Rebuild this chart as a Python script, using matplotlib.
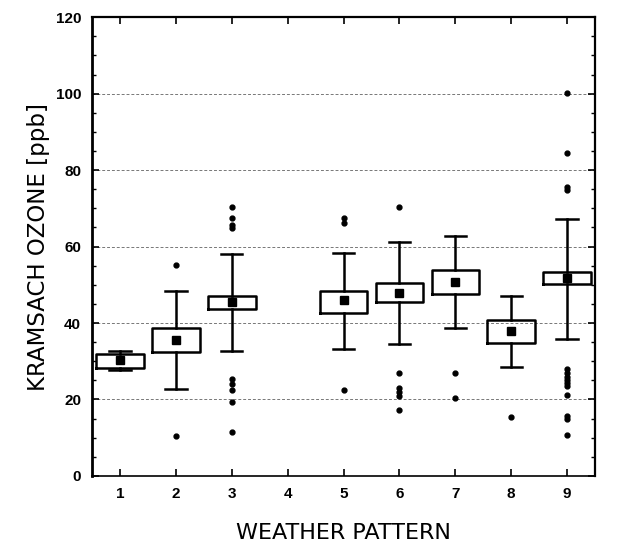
#!/usr/bin/env python3
"""Box plots of Kramsach ozone by weather pattern."""

import matplotlib
matplotlib.use('Agg')
import matplotlib.pyplot as plt
from matplotlib.ticker import MultipleLocator

# Weather patterns present (4 has no data)
patterns = [1, 2, 3, 5, 6, 7, 8, 9]
q1 = [28.3, 32.4, 43.8, 42.7, 45.5, 47.5, 34.8, 50.2]
q3 = [32.0, 38.7, 47.0, 48.5, 50.5, 54.0, 40.8, 53.3]
means = [30.4, 35.5, 45.4, 45.9, 47.9, 50.8, 37.8, 51.7]
whislo = [27.7, 22.8, 32.7, 33.2, 34.4, 38.6, 28.6, 35.9]
whishi = [32.6, 48.5, 58.0, 58.2, 61.3, 62.9, 47.0, 67.2]
fliers = [
    [],
    [55.2, 10.5],
    [70.3, 67.5, 65.6, 64.8, 25.3, 24.0, 22.6, 19.3, 11.6],
    [67.6, 66.1, 22.4],
    [70.4, 26.9, 23.0, 21.9, 21.0, 17.2],
    [26.8, 20.4],
    [15.5],
    [100.2, 84.5, 75.6, 74.9, 28.0, 27.0, 26.0, 25.0, 24.2, 23.4, 21.2, 15.6, 15.0, 10.6],
]

xticks = list(range(1, 10))
yticks = [0, 20, 40, 60, 80, 100, 120]


def main():
    fig = plt.figure(figsize=(6.31, 5.56), dpi=100)
    ax = fig.add_axes([0.146, 0.144, 0.797, 0.825])

    stats = []
    for i in range(len(patterns)):
        stats.append({
            'q1': q1[i], 'q3': q3[i], 'med': means[i], 'mean': means[i],
            'whislo': whislo[i], 'whishi': whishi[i], 'fliers': fliers[i],
        })

    ax.bxp(stats, positions=patterns, widths=0.85, showmeans=True,
           patch_artist=False, capwidths=0.38,
           boxprops=dict(color='black', linewidth=1.8),
           whiskerprops=dict(color='black', linewidth=1.8),
           capprops=dict(color='black', linewidth=1.8),
           medianprops=dict(linestyle='none'),
           meanprops=dict(marker='s', markersize=6, markerfacecolor='black',
                          markeredgecolor='black'),
           flierprops=dict(marker='o', markersize=3.5, markerfacecolor='black',
                           markeredgecolor='black'))

    ax.set_xlim(0.5, 9.5)
    ax.set_ylim(0, 120)
    ax.set_xticks(xticks)
    ax.set_xticklabels([str(t) for t in xticks])
    ax.set_yticks(yticks)
    ax.yaxis.set_minor_locator(MultipleLocator(5))

    for y in yticks[1:-1]:
        ax.axhline(y, color='#777777', linestyle=(0, (3, 2)), linewidth=0.7, zorder=0)

    ax.tick_params(axis='both', which='major', direction='in', length=5, width=1.2,
                   top=True, right=True, labelsize=11, pad=8)
    ax.tick_params(axis='y', which='minor', direction='in', length=3, width=1,
                   right=True)
    for lab in ax.get_xticklabels() + ax.get_yticklabels():
        lab.set_fontweight('bold')
        lab.set_family('Liberation Sans')

    ax.spines['left'].set_linewidth(2)
    ax.spines['top'].set_linewidth(1.6)
    ax.spines['right'].set_linewidth(1.6)
    ax.spines['bottom'].set_linewidth(1.2)
    ax.spines['bottom'].set_linestyle((0, (4, 1)))

    ax.set_ylabel('KRAMSACH OZONE [ppb]', fontsize=16.5, family='DejaVu Sans',
                  fontweight='normal', labelpad=4)
    ax.set_xlabel('WEATHER PATTERN', fontsize=16, family='DejaVu Sans',
                  fontweight='normal', labelpad=16)

    plt.savefig('out.png', dpi=100)


if __name__ == '__main__':
    main()
